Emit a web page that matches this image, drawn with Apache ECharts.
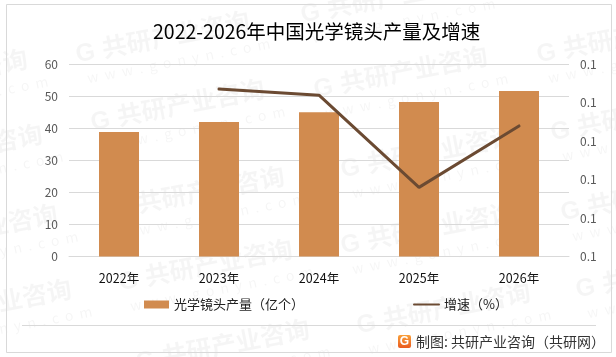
<!DOCTYPE html>
<html>
<head>
<meta charset="utf-8">
<title>中国光学镜头产量及增速</title>
<style>
html, body { margin: 0; padding: 0; background: #fff; }
#main { width: 616px; height: 357px; }
</style>
<script src="https://cdn.jsdelivr.net/npm/echarts@6/dist/echarts.min.js"></script>
</head>
<body>
<div id="main"></div>
<script>
var categories = ['2022年', '2023年', '2024年', '2025年', '2026年'];
var outputValues = [38.9, 42, 45.1, 48.3, 51.7];
var growthValues = [null, 0.0818, 0.081, 0.069, 0.077];
var watermarkSpots = [
	[100, 38], [325, -2], [561, 38],
	[-122, 76], [115, 106], [338, 73], [575, 116],
	[-107, 151], [365, 153],
	[-92, 231], [135, 193], [585, 196],
	[-78, 306], [143, 266], [365, 229], [600, 273],
	[160, 346], [381, 309]
];

var fontFamily = '"Noto Sans CJK SC", "Open Sans", sans-serif';
var myChart = echarts.init(document.getElementById('main'), null, { renderer: 'canvas' });

// 水印
var graphics = [];
var markColor = 'rgba(0,0,0,0.04)';
watermarkSpots.forEach(function (p) {
	graphics.push({
		type: 'group', x: p[0], y: p[1], rotation: 0.19, z: -1, silent: true,
		children: [
			{ type: 'text', style: { x: -27, y: 0, text: 'G', fontSize: 25, fontWeight: 'bold', fill: markColor, fontFamily: 'Liberation Sans' } },
			{ type: 'text', style: { x: 0, y: -2, text: '共研产业咨询', fontSize: 25, fontWeight: 'bold', fill: markColor, fontFamily: fontFamily } },
			{ type: 'text', style: { x: -20, y: 30, text: 'w  w  w  .  g  o  n  y  n  .  c  o  m', fontSize: 14, fill: markColor, fontFamily: fontFamily } }
		]
	});
});
// 外框、页脚分隔线、logo
graphics.push({ type: 'rect', shape: { x: 6.5, y: 4.5, width: 605, height: 348 }, style: { fill: 'none', stroke: '#d9d9d9', lineWidth: 1 }, silent: true });
graphics.push({ type: 'line', shape: { x1: 22, y1: 325.5, x2: 596, y2: 325.5 }, style: { stroke: '#d9d9d9', lineWidth: 1 }, silent: true });
graphics.push({
	type: 'rect',
	shape: { x: 398, y: 335, width: 13, height: 13, r: 2 },
	style: { fill: new echarts.graphic.LinearGradient(0, 0, 0, 1, [{ offset: 0, color: '#f9a03a' }, { offset: 1, color: '#ea5a1e' }]) },
	silent: true
});
graphics.push({ type: 'text', style: { x: 404.5, y: 341.5, text: 'G', fontSize: 12, fontWeight: 'bold', fill: '#fff', align: 'center', verticalAlign: 'middle', fontFamily: 'Liberation Sans' }, silent: true });
graphics.push({ type: 'text', style: { x: 416, y: 342, text: '制图: 共研产业咨询（共研网）', fontSize: 14, fill: '#333', verticalAlign: 'middle', fontFamily: fontFamily }, silent: true });

var option = {
	animation: false,
	backgroundColor: '#fff',
	textStyle: { fontFamily: fontFamily },
	title: {
		text: '2022-2026年中国光学镜头产量及增速',
		left: 148,
		top: 17,
		textStyle: { fontSize: 19.5, fontWeight: 'normal', color: '#000', fontFamily: fontFamily }
	},
	grid: { left: 69, right: 47, top: 64.5, bottom: 100.5 },
	legend: {
		top: 293,
		left: 139,
		itemGap: 109,
		itemWidth: 25,
		itemHeight: 8,
		textStyle: { fontSize: 13, color: '#222' },
		data: [
			{ name: '光学镜头产量（亿个）', icon: 'rect' },
			// 线形图例不要圆点
			{ name: '增速（%）', itemStyle: { color: 'transparent' } }
		]
	},
	xAxis: [{
		type: 'category',
		data: categories,
		axisLine: { lineStyle: { color: '#d9d9d9' } },
		axisTick: { show: false },
		axisLabel: { color: '#111', fontSize: 12.5, margin: 15 }
	}],
	yAxis: [{
		type: 'value',
		min: 0,
		max: 60,
		interval: 10,
		axisLine: { show: false },
		axisTick: { show: false },
		axisLabel: { color: '#595959', fontSize: 12, margin: 11 },
		splitLine: { lineStyle: { color: '#d9d9d9' } }
	}, {
		type: 'value',
		min: 0.06,
		max: 0.085,
		interval: 0.005,
		position: 'right',
		axisLine: { show: false },
		axisTick: { show: false },
		axisLabel: { color: '#595959', fontSize: 12, margin: 11, formatter: function (v) { return v.toFixed(1); } },
		splitLine: { show: false }
	}],
	series: [{
		name: '光学镜头产量（亿个）',
		type: 'bar',
		barWidth: 40,
		itemStyle: { color: '#d18b4f' },
		data: outputValues
	}, {
		name: '增速（%）',
		type: 'line',
		yAxisIndex: 1,
		showSymbol: false,
		symbol: 'none',
		lineStyle: { color: '#6b4a32', width: 3, cap: 'round' },
		itemStyle: { color: '#6b4a32' },
		data: growthValues
	}],
	graphic: graphics
};

option && myChart.setOption(option);
</script>
</body>
</html>
